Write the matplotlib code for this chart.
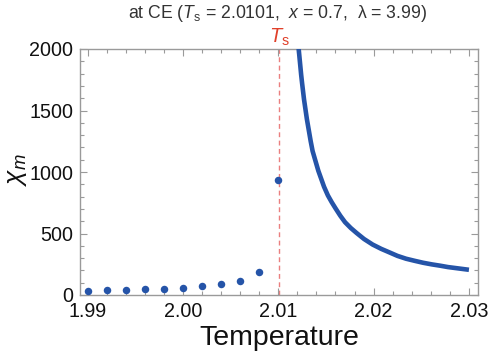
import matplotlib
matplotlib.use("Agg")
import matplotlib.pyplot as plt
from matplotlib.ticker import MultipleLocator

plt.rcParams['font.family'] = ['Liberation Sans', 'DejaVu Sans']
plt.rcParams['mathtext.fontset'] = 'custom'
plt.rcParams['mathtext.rm'] = 'Liberation Sans'
plt.rcParams['mathtext.it'] = 'Liberation Sans:italic'

# Data
dot_T = [1.990, 1.992, 1.994, 1.996, 1.998, 2.000, 2.002, 2.004, 2.006, 2.008, 2.010]
dot_chi = [35, 41, 43, 46, 51, 59, 76, 89, 114, 187, 932]

curve_T = [2.0120, 2.01214, 2.0124, 2.0125, 2.0127, 2.0130, 2.0132, 2.0134, 2.0136,
           2.0139, 2.0142, 2.0145, 2.0148, 2.0152, 2.0156, 2.0160, 2.0165, 2.0170,
           2.0176, 2.0182, 2.0190, 2.0199, 2.0208, 2.0217, 2.0225, 2.0234, 2.0243,
           2.0252, 2.0261, 2.0270, 2.0278, 2.0287, 2.0294, 2.0300]
curve_chi = [2150, 2000, 1790, 1720, 1590, 1430, 1340, 1250, 1170,
             1090, 1010, 945, 880, 810, 755, 705, 645, 592,
             545, 505, 455, 410, 375, 345, 318, 295, 278,
             262, 249, 238, 227, 218, 211, 205]

Ts = 2.0101
x_ticks = [1.99, 2.00, 2.01, 2.02, 2.03]
x_ticklabels = ['1.99', '2.00', '2.01', '2.02', '2.03']
y_ticks = [0, 500, 1000, 1500, 2000]

blue = '#2554a8'
frame_col = '#9a9a9a'

fig = plt.figure(figsize=(4.89, 3.61), dpi=100)
ax = fig.add_axes([80/489, 1-295/361, (478-80)/489, (295-49)/361])

ax.axvline(Ts, color='#ea7f7f', lw=1.0, ls=(0, (3.5, 2.5)), zorder=1)
ax.plot(curve_T, curve_chi, color=blue, lw=3.3, solid_capstyle='butt',
        solid_joinstyle='round', zorder=3)
ax.plot(dot_T, dot_chi, 'o', color=blue, ms=5.4, mec='none', zorder=4, clip_on=False)

ax.set_xlim(1.9892, 2.03095)
ax.set_ylim(0, 2000)

ax.set_xticks(x_ticks)
ax.set_xticklabels(x_ticklabels)
ax.set_yticks(y_ticks)
ax.xaxis.set_minor_locator(MultipleLocator(0.002))
ax.yaxis.set_minor_locator(MultipleLocator(100))

for s in ax.spines.values():
    s.set_color(frame_col)
    s.set_linewidth(1.0)

ax.tick_params(which='both', direction='in', top=True, right=True,
               color=frame_col, width=0.8)
ax.tick_params(which='major', length=5, labelsize=14.2, pad=5, labelcolor='#111111')
ax.tick_params(which='minor', length=3)

ax.set_xlabel('Temperature', fontsize=20.5, color='#111111', labelpad=3)
ax.set_ylabel(r'$\chi_m$', fontsize=19, color='#111111')
ax.yaxis.set_label_coords(-0.128, 0.51)

fig.text(278/489, 1-14/361, r'at CE ($T_\mathrm{s}$ = 2.0101,  $x$ = 0.7,  λ = 3.99)',
         ha='center', va='center', fontsize=12.7, color='#333333')
ax.text(Ts, 1.005, r'$T_\mathrm{s}$', transform=ax.get_xaxis_transform(),
        ha='center', va='bottom', fontsize=14.5, color='#e0402a')

fig.savefig('out.png', dpi=100)
